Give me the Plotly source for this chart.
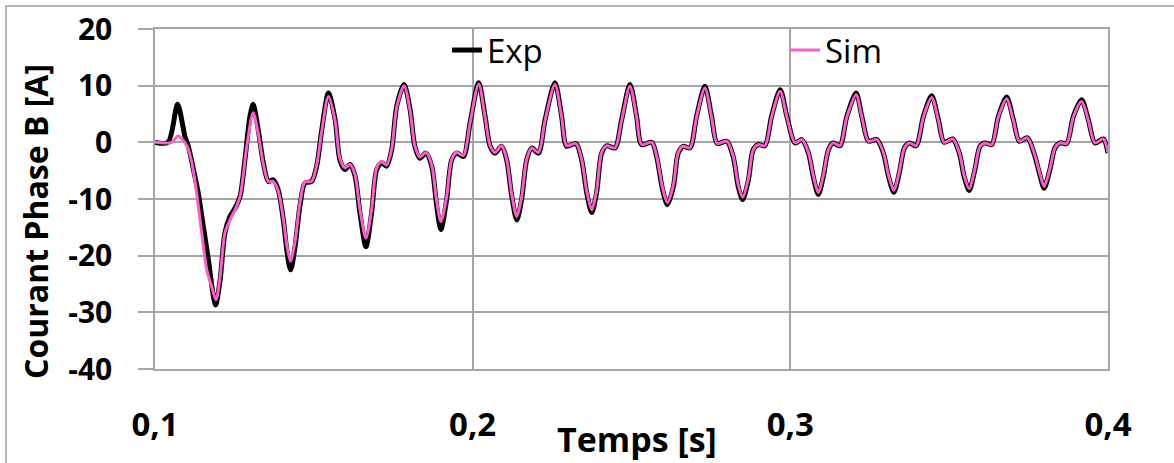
import plotly.graph_objects as go

# Measured phase-B current (Exp) and simulated current (Sim), time in seconds, current in A
t_exp = [0.1000, 0.1041, 0.1071, 0.1094, 0.1105, 0.1121, 0.1136, 0.1152, 0.1168, 0.1184,
         0.1191, 0.1205, 0.1220, 0.1236, 0.1255, 0.1268, 0.1283, 0.1299, 0.1309, 0.1325,
         0.1341, 0.1357, 0.1372, 0.1388, 0.1404, 0.1416, 0.1427, 0.1441, 0.1456, 0.1472,
         0.1493, 0.1509, 0.1525, 0.1546, 0.1567, 0.1582, 0.1598, 0.1614, 0.1630, 0.1645,
         0.1664, 0.1682, 0.1698, 0.1714, 0.1729, 0.1745, 0.1761, 0.1784, 0.1803, 0.1818,
         0.1834, 0.1853, 0.1871, 0.1887, 0.1900, 0.1918, 0.1934, 0.1950, 0.1971, 0.1992,
         0.2019, 0.2039, 0.2055, 0.2070, 0.2091, 0.2107, 0.2123, 0.2139, 0.2154, 0.2170,
         0.2186, 0.2207, 0.2228, 0.2259, 0.2280, 0.2296, 0.2325, 0.2343, 0.2359, 0.2375,
         0.2390, 0.2406, 0.2422, 0.2448, 0.2469, 0.2495, 0.2516, 0.2532, 0.2564, 0.2579,
         0.2598, 0.2613, 0.2632, 0.2647, 0.2663, 0.2684, 0.2705, 0.2731, 0.2752, 0.2770,
         0.2800, 0.2820, 0.2836, 0.2850, 0.2868, 0.2883, 0.2899, 0.2920, 0.2941, 0.2968,
         0.2989, 0.3015, 0.3036, 0.3057, 0.3072, 0.3088, 0.3104, 0.3120, 0.3135, 0.3156,
         0.3178, 0.3207, 0.3225, 0.3246, 0.3272, 0.3293, 0.3309, 0.3326, 0.3343, 0.3359,
         0.3375, 0.3396, 0.3419, 0.3445, 0.3466, 0.3484, 0.3511, 0.3532, 0.3547, 0.3563,
         0.3581, 0.3597, 0.3613, 0.3634, 0.3655, 0.3681, 0.3702, 0.3721, 0.3746, 0.3767,
         0.3784, 0.3799, 0.3817, 0.3833, 0.3849, 0.3870, 0.3891, 0.3917, 0.3938, 0.3959,
         0.3985, 0.4000]
i_exp = [0.0, 0.0, 6.7, 1.1, -0.7, -4.8, -8.9, -14.8, -20.7, -27.2,
         -28.7, -24.3, -16.0, -13.1, -11.3, -9.5, -3.1, 4.6, 6.7, 2.2,
         -3.6, -6.9, -6.6, -8.4, -13.7, -19.5, -22.5, -18.4, -11.3, -7.2,
         -6.9, -4.2, 2.2, 8.7, 4.0, -3.1, -4.8, -3.9, -6.0, -12.4,
         -18.4, -12.4, -4.8, -3.6, -4.2, -1.3, 6.4, 10.2, 5.8, -0.7,
         -2.8, -1.9, -4.2, -11.3, -15.4, -10.1, -3.1, -1.9, -2.5, 3.5,
         10.5, 4.6, -0.7, -1.9, -0.7, -3.1, -9.5, -13.7, -10.1, -3.1,
         -1.0, -1.9, 4.0, 10.5, 4.6, -0.7, -0.2, -3.1, -8.9, -12.4,
         -8.9, -1.9, -0.6, -1.0, 4.0, 10.2, 4.6, -0.4, 0.0, -2.5,
         -8.4, -11.0, -7.8, -1.9, -0.7, -1.0, 4.6, 9.9, 4.6, -0.2,
         0.2, -2.5, -7.8, -10.1, -6.6, -1.3, -0.4, -0.6, 4.6, 9.3,
         4.6, -0.1, 0.5, -1.9, -6.0, -9.2, -6.0, -1.3, -0.1, -0.6,
         4.6, 8.7, 4.6, 0.2, 0.5, -1.9, -6.0, -8.8, -5.4, -1.0,
         -0.1, -0.6, 4.6, 8.2, 4.0, 0.0, 0.6, -1.9, -6.0, -8.5,
         -4.8, -0.7, -0.1, -0.4, 4.6, 8.0, 4.0, 0.2, 0.8, -1.9,
         -5.4, -8.1, -4.8, -1.0, -0.1, -0.2, 4.6, 7.5, 4.0, -0.1,
         0.6, -1.9]

t_sim = [0.1000, 0.1053, 0.1073, 0.1100, 0.1116, 0.1131, 0.1147, 0.1163, 0.1178, 0.1192,
         0.1205, 0.1220, 0.1236, 0.1252, 0.1268, 0.1289, 0.1309, 0.1325,
         0.1341, 0.1357, 0.1372, 0.1388, 0.1404, 0.1416, 0.1427, 0.1441, 0.1456, 0.1472,
         0.1493, 0.1509, 0.1525, 0.1546, 0.1567, 0.1582, 0.1598, 0.1614, 0.1630, 0.1645,
         0.1664, 0.1682, 0.1698, 0.1714, 0.1729, 0.1745, 0.1761, 0.1784, 0.1803, 0.1818,
         0.1834, 0.1853, 0.1871, 0.1887, 0.1900, 0.1918, 0.1934, 0.1950, 0.1971, 0.1992,
         0.2019, 0.2039, 0.2055, 0.2070, 0.2091, 0.2107, 0.2123, 0.2139, 0.2154, 0.2170,
         0.2186, 0.2207, 0.2228, 0.2259, 0.2280, 0.2296, 0.2325, 0.2343, 0.2359, 0.2375,
         0.2390, 0.2406, 0.2422, 0.2448, 0.2469, 0.2495, 0.2516, 0.2532, 0.2564, 0.2579,
         0.2598, 0.2613, 0.2632, 0.2647, 0.2663, 0.2684, 0.2705, 0.2731, 0.2752, 0.2770,
         0.2800, 0.2820, 0.2836, 0.2850, 0.2868, 0.2883, 0.2899, 0.2920, 0.2941, 0.2968,
         0.2989, 0.3015, 0.3036, 0.3057, 0.3072, 0.3088, 0.3104, 0.3120, 0.3135, 0.3156,
         0.3178, 0.3207, 0.3225, 0.3246, 0.3272, 0.3293, 0.3309, 0.3326, 0.3343, 0.3359,
         0.3375, 0.3396, 0.3419, 0.3445, 0.3466, 0.3484, 0.3511, 0.3532, 0.3547, 0.3563,
         0.3581, 0.3597, 0.3613, 0.3634, 0.3655, 0.3681, 0.3702, 0.3721, 0.3746, 0.3767,
         0.3784, 0.3799, 0.3817, 0.3833, 0.3849, 0.3870, 0.3891, 0.3917, 0.3938, 0.3959,
         0.3985, 0.4000]
i_sim = [0.0, 0.0, 1.1, -0.6, -3.6, -8.9, -16.0, -22.5, -25.4, -27.8,
         -23.7, -16.0, -13.7, -11.9, -9.5, -0.7, 5.2, 1.5,
         -3.8, -6.9, -6.9, -8.6, -13.5, -18.5, -21.0, -17.5, -10.8, -7.0,
         -6.9, -4.0, 2.0, 8.1, 3.8, -2.8, -4.5, -3.9, -5.8, -11.8,
         -16.9, -11.8, -4.5, -3.4, -4.0, -1.2, 6.2, 10.0, 5.6, -0.6,
         -2.6, -1.8, -4.0, -10.5, -14.0, -9.6, -3.0, -1.8, -2.3, 3.5,
         10.3, 4.5, -0.6, -1.8, -0.6, -3.0, -9.2, -13.1, -9.7, -3.0,
         -1.0, -1.8, 3.9, 10.2, 4.5, -0.6, -0.2, -3.0, -8.6, -11.9,
         -8.6, -1.8, -0.6, -1.0, 3.9, 9.9, 4.5, -0.4, 0.0, -2.4,
         -8.1, -10.6, -7.5, -1.8, -0.7, -1.0, 4.5, 9.6, 4.5, -0.2,
         0.2, -2.4, -7.5, -9.7, -6.4, -1.3, -0.4, -0.6, 4.5, 9.0,
         4.5, -0.1, 0.5, -1.8, -5.8, -8.9, -5.8, -1.3, -0.1, -0.6,
         4.5, 8.4, 4.5, 0.2, 0.5, -1.8, -5.8, -8.5, -5.2, -1.0,
         -0.1, -0.6, 4.5, 7.9, 3.9, 0.0, 0.6, -1.8, -5.8, -8.2,
         -4.7, -0.7, -0.1, -0.4, 4.5, 7.7, 3.9, 0.2, 0.8, -1.8,
         -5.2, -7.8, -4.7, -1.0, -0.1, -0.2, 4.5, 7.2, 3.9, -0.1,
         0.6, -1.8]

x_ticks = [0.1, 0.2, 0.3, 0.4]
x_tick_text = ["0,1", "0,2", "0,3", "0,4"]
y_ticks = [-40, -30, -20, -10, 0, 10, 20]
y_tick_text = ["-40", "-30", "-20", "-10", "0", "10", "20"]

GRID = "#a6a6a6"
FONT = "Open Sans"

fig = go.Figure()
fig.add_trace(go.Scatter(
    x=t_exp, y=i_exp, name="Exp", mode="lines", legend="legend",
    line=dict(color="black", width=5, shape="spline", smoothing=0.8),
))
fig.add_trace(go.Scatter(
    x=t_sim, y=i_sim, name="Sim", mode="lines", legend="legend2",
    line=dict(color="#ff5ccb", width=3, shape="spline", smoothing=0.8),
))

legend_style = dict(
    orientation="h", yanchor="middle", xanchor="left",
    font=dict(family=FONT, size=33, color="black"),
    bgcolor="rgba(0,0,0,0)", itemwidth=30,
)

fig.update_layout(
    width=1174, height=463,
    margin=dict(l=155, r=66, t=29, b=94, autoexpand=False),
    paper_bgcolor="white", plot_bgcolor="white",
    font=dict(family=FONT, color="black"),
    showlegend=True,
    legend=dict(x=0.3064, y=0.938, **legend_style),
    legend2=dict(x=0.6611, y=0.938, **legend_style),
    xaxis=dict(
        range=[0.1, 0.4], tickmode="array", tickvals=x_ticks, ticktext=x_tick_text,
        showgrid=True, gridcolor=GRID, gridwidth=1.5,
        showline=True, linecolor=GRID, linewidth=1.5, mirror=True,
        ticks="", zeroline=False, automargin=False,
        tickfont=dict(family=FONT, size=33, color="black", weight="bold"),
        ticklabelstandoff=26,
    ),
    yaxis=dict(
        range=[-40, 20], tickmode="array", tickvals=y_ticks, ticktext=y_tick_text,
        showgrid=True, gridcolor=GRID, gridwidth=1.5,
        showline=True, linecolor=GRID, linewidth=1.5, mirror=True,
        ticks="outside", ticklen=15, tickwidth=1.5, tickcolor=GRID,
        zeroline=False, automargin=False,
        tickfont=dict(family=FONT, size=30, color="black", weight="bold"),
        ticklabelstandoff=20,
    ),
    annotations=[
        dict(text="Courant Phase B [A]", textangle=-90, showarrow=False,
             xref="paper", yref="paper", x=-0.1249, y=0.4353,
             xanchor="center", yanchor="middle",
             font=dict(family=FONT, size=32, color="black", weight="bold")),
        dict(text="Temps [s]", showarrow=False,
             xref="paper", yref="paper", x=0.5055, y=(369 - 439) / 340,
             xanchor="center", yanchor="middle",
             font=dict(family=FONT, size=34, color="black", weight="bold")),
    ],
    shapes=[dict(
        type="rect", xref="paper", yref="paper",
        x0=-0.1563, x1=1.08, y0=-0.32, y1=1.0676,
        line=dict(color="#a0a0a0", width=1.5), fillcolor="rgba(0,0,0,0)", layer="below",
    )],
)

fig.write_html("out.html")
